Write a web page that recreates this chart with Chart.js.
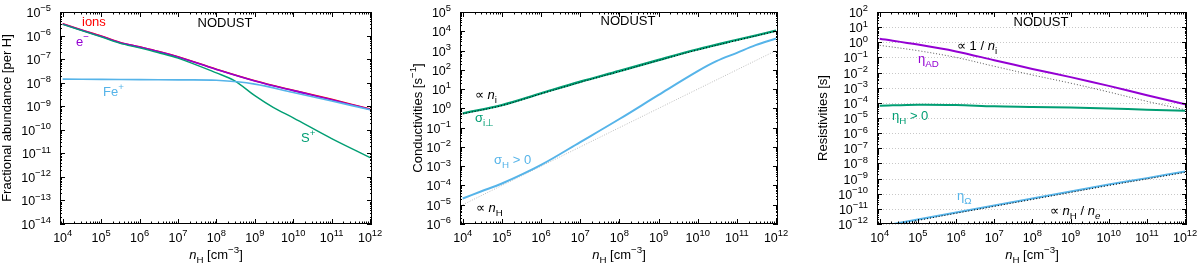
<!DOCTYPE html>
<html lang="en">
<head>
<meta charset="UTF-8">
<title>NODUST: abundances, conductivities, resistivities</title>
<script src="https://cdn.jsdelivr.net/npm/chart.js@4.4.0/dist/chart.umd.min.js"></script>
<style>
    body { margin: 0; background: #fff; }
    .row { display: flex; width: 1200px; height: 268px; }
    .panel { position: relative; width: 400px; height: 268px; }
</style>
</head>
<body>
<div class="row">
    <div class="panel"><canvas id="abund"></canvas></div>
    <div class="panel"><canvas id="cond"></canvas></div>
    <div class="panel"><canvas id="resist"></canvas></div>
</div>
<script>
// density grid [cm^-3]
const nH = [1e4, 1e5, 1e6, 1e7, 1e8, 1e9, 1e10, 1e11, 1e12];

// left panel: fractional abundances [per H]
const nHIons = [1e4, 3e4, 1e5, 3e5, 1e6, 3e6, 1e7, 1e8, 1e9, 1e10, 1e11, 1e12];
const ions   = [3.2e-6, 1.78e-6, 9.6e-7, 5.2e-7, 3.3e-7, 2.15e-7, 1.26e-7, 3.7e-8, 1.2e-8, 4.7e-9, 1.95e-9, 7.6e-10];
const elec   = [3.1e-6, 1.72e-6, 9.3e-7, 5.1e-7, 3.25e-7, 2.1e-7, 1.24e-7, 3.65e-8, 1.18e-8, 4.6e-9, 1.9e-9, 7.3e-10];
const nHS    = [1e4, 3e4, 1e5, 3e5, 1e6, 3e6, 1e7, 1e8, 3e8, 1e9, 3e9, 1e10, 1e11, 1e12];
const sPlus  = [3.0e-6, 1.65e-6, 8.8e-7, 4.8e-7, 3.0e-7, 1.9e-7, 1.1e-7, 2.6e-8, 1.2e-8, 2.8e-9, 8.9e-10, 3.2e-10, 4.2e-11, 6.6e-12];
const fePlus = [1.41e-8, 1.38e-8, 1.35e-8, 1.32e-8, 1.26e-8, 8.7e-9, 3.8e-9, 1.66e-9, 7.1e-10];

// middle panel: conductivities [s^-1]
const sigmaPerp = [0.55, 1.48, 6.0, 24, 87, 324, 1150, 3550, 10700];
const propNi    = [0.52, 1.40, 5.7, 22.5, 82, 305, 1080, 3350, 10100];
const nHHall    = [1e4, 3e4, 1e5, 1e6, 1e7, 1e8, 1e9, 1e10, 3e10, 1e11, 3e11, 1e12];
const sigmaHall = [2.1e-5, 5.0e-5, 1.26e-4, 1.17e-3, 1.78e-2, 0.28, 5.0, 85, 280, 760, 1900, 4200];
const propNH    = [1e-5, 1e-4, 1e-3, 1e-2, 0.1, 1, 10, 100, 1000];

// right panel: resistivities [s]
const etaAD     = [1.7, 0.71, 0.25, 0.066, 0.0174, 5.0e-3, 1.32e-3, 3.2e-4, 8.1e-5];
const propInvNi = [0.63, 0.28, 0.10, 0.026, 6.9e-3, 2.0e-3, 5.2e-4, 1.26e-4, 3.5e-5];
const etaHall   = [6.5e-5, 7.6e-5, 7.2e-5, 5.9e-5, 5.4e-5, 4.9e-5, 4.3e-5, 3.5e-5, 3.0e-5];
const etaOhm    = [6.8e-13, 1.95e-12, 5.8e-12, 1.66e-11, 4.8e-11, 1.38e-10, 4.0e-10, 1.07e-9, 2.9e-9];
const propNHNe  = [6.0e-13, 1.72e-12, 5.1e-12, 1.46e-11, 4.2e-11, 1.21e-10, 3.5e-10, 9.4e-10, 2.55e-9];

const RED = '#ff0000', PURPLE = '#9400d3', GREEN = '#009e73', BLUE = '#56b4e9';
const FONT = '"Liberation Sans", Arial, Helvetica, sans-serif';

// tiny markup: ^{sup} _{sub} _{*italic sub*} *italic*
function parseRich(str) {
    const out = [];
    const re = /_\{\*([^}]*)\*\}|\^\{([^}]*)\}|_\{([^}]*)\}|\*([^*]*)\*|([^^_*]+)/g;
    let m;
    while ((m = re.exec(str))) {
        if (m[1] !== undefined) out.push({ t: m[1], k: 'sub', it: true });
        else if (m[2] !== undefined) out.push({ t: m[2], k: 'sup' });
        else if (m[3] !== undefined) out.push({ t: m[3], k: 'sub' });
        else if (m[4] !== undefined) out.push({ t: m[4], k: '', it: true });
        else out.push({ t: m[5], k: '' });
    }
    return out;
}

function drawRich(ctx, str, x, y, size, color, align) {
    const parts = parseRich(str);
    const fontFor = p => (p.it ? 'italic ' : '') + (p.k ? size * 0.75 : size) + 'px ' + FONT;
    let w = 0;
    parts.forEach(p => { ctx.font = fontFor(p); p.w = ctx.measureText(p.t).width; w += p.w; });
    let cx = align === 'right' ? x - w : align === 'center' ? x - w / 2 : x;
    ctx.fillStyle = color;
    ctx.textAlign = 'left';
    ctx.textBaseline = 'alphabetic';
    parts.forEach(p => {
        ctx.font = fontFor(p);
        const dy = p.k === 'sup' ? -size * 0.45 : p.k === 'sub' ? size * 0.3 : 0;
        ctx.fillText(p.t, cx, y + dy);
        cx += p.w;
    });
}

function expLabel(e) {
    return '10^{' + (e < 0 ? '\u2212' + (-e) : e) + '}';
}

function framePlugin(cfg) {
    return {
        id: 'frame',
        beforeDatasetsDraw(chart) {
            if (!cfg.grid) return;
            const { ctx, chartArea: a, scales: { y } } = chart;
            ctx.save();
            ctx.strokeStyle = '#c8c8c8';
            ctx.lineWidth = 1;
            ctx.setLineDash([1, 2]);
            for (let e = cfg.yExp[0]; e <= cfg.yExp[1]; e++) {
                const py = Math.round(y.getPixelForValue(Math.pow(10, e))) + 0.5;
                ctx.beginPath();
                ctx.moveTo(a.left, py);
                ctx.lineTo(a.right, py);
                ctx.stroke();
            }
            ctx.restore();
        },
        afterDatasetsDraw(chart) {
            const { ctx, chartArea: a, scales: { x, y } } = chart;
            ctx.save();
            ctx.strokeStyle = '#000';
            ctx.lineWidth = 1;
            ctx.beginPath();
            // x ticks, bottom and top, pointing inward
            for (let e = 3; e <= 12; e++) {
                for (let m = 1; m <= 9; m++) {
                    const v = m * Math.pow(10, e);
                    if (v < x.min || v > x.max) continue;
                    const px = Math.round(x.getPixelForValue(v)) + 0.5;
                    const len = m === 1 ? 5 : 2.5;
                    ctx.moveTo(px, a.bottom); ctx.lineTo(px, a.bottom - len);
                    ctx.moveTo(px, a.top); ctx.lineTo(px, a.top + len);
                }
            }
            // y ticks, left and right
            for (let e = cfg.yExp[0]; e <= cfg.yExp[1]; e++) {
                for (let m = 1; m <= 9; m++) {
                    const v = m * Math.pow(10, e);
                    if (v < y.min * 0.999 || v > y.max * 1.001) continue;
                    const py = Math.round(y.getPixelForValue(v)) + 0.5;
                    const len = m === 1 ? 5 : 2;
                    ctx.moveTo(a.left, py); ctx.lineTo(a.left + len, py);
                    ctx.moveTo(a.right, py); ctx.lineTo(a.right - len, py);
                }
            }
            ctx.stroke();
            ctx.strokeRect(Math.round(a.left) + 0.5, Math.round(a.top) + 0.5,
                Math.round(a.width) - 1, Math.round(a.height) - 1);

            // tick labels
            for (let e = 4; e <= 12; e++) {
                drawRich(ctx, expLabel(e), x.getPixelForValue(Math.pow(10, e)), a.bottom + 18, 12.5, '#000', 'center');
            }
            for (let e = cfg.yExp[0]; e <= cfg.yExp[1]; e++) {
                drawRich(ctx, expLabel(e), a.left - 9, y.getPixelForValue(Math.pow(10, e)) + 5, 12.5, '#000', 'right');
            }

            // axis titles
            drawRich(ctx, '*n*_{H} [cm^{\u22123}]', (a.left + a.right) / 2, 259, 13, '#000', 'center');
            ctx.save();
            ctx.translate(cfg.yTitleX, (a.top + a.bottom) / 2);
            ctx.rotate(-Math.PI / 2);
            drawRich(ctx, cfg.yTitle, 0, 0, 13, '#000', 'center');
            ctx.restore();

            // in-plot labels
            drawRich(ctx, 'NODUST', (a.left + a.right) / 2 + 9, cfg.titleY, 13, '#000', 'center');
            cfg.notes.forEach(n => drawRich(ctx, n.s, n.x, n.y, 13, n.c, 'left'));
            ctx.restore();
        }
    };
}

function series(xs, ys, color, width, dash, order) {
    return {
        data: xs.map((v, i) => ({ x: v, y: ys[i] })),
        borderColor: color,
        borderWidth: width,
        borderDash: dash || [],
        pointRadius: 0,
        fill: false,
        tension: 0.35,
        order: order
    };
}

function makeChart(id, datasets, cfg) {
    new Chart(document.getElementById(id), {
        type: 'line',
        data: { datasets: datasets },
        options: {
            responsive: true,
            maintainAspectRatio: false,
            animation: false,
            layout: { padding: cfg.padding },
            scales: {
                x: { type: 'logarithmic', min: 8.5e3, max: 1.12e12, display: false },
                y: { type: 'logarithmic', min: Math.pow(10, cfg.yExp[0]), max: Math.pow(10, cfg.yExp[1]), display: false }
            },
            plugins: { legend: { display: false }, tooltip: { enabled: false } }
        },
        plugins: [framePlugin(cfg)]
    });
}

makeChart('abund', [
    series(nHIons, ions, RED, 1.6, null, 4),
    series(nHIons, elec, PURPLE, 1.6, null, 3),
    series(nHS, sPlus, GREEN, 1.4, null, 2),
    series(nH, fePlus, BLUE, 1.6, null, 1)
], {
    padding: { left: 60, right: 28, top: 12, bottom: 44 },
    yExp: [-14, -5],
    yTitle: 'Fractional abundance [per H]',
    yTitleX: 11,
    titleY: 27,
    notes: [
        { s: 'ions', x: 82, y: 26, c: RED },
        { s: 'e^{\u2212}', x: 76, y: 46, c: PURPLE },
        { s: 'Fe^{+}', x: 103, y: 96, c: BLUE },
        { s: 'S^{+}', x: 301, y: 142, c: GREEN }
    ]
});

makeChart('cond', [
    series(nH, propNi, '#000', 1, [1, 2], 1),
    series(nH, sigmaPerp, GREEN, 2.4, null, 2),
    series(nH, propNH, '#bdbdbd', 1, [1, 1.5], 4),
    series(nHHall, sigmaHall, BLUE, 2, null, 3)
], {
    padding: { left: 60, right: 22, top: 12, bottom: 44 },
    yExp: [-6, 5],
    yTitle: 'Conductivities [s^{\u22121}]',
    yTitleX: 22,
    titleY: 25,
    notes: [
        { s: '\u221d *n*_{i}', x: 75, y: 99, c: '#000' },
        { s: '\u03c3_{i\u22a5}', x: 75, y: 122, c: GREEN },
        { s: '\u03c3_{H} > 0', x: 94, y: 164, c: BLUE },
        { s: '\u221d *n*_{H}', x: 76, y: 212, c: '#000' }
    ]
});

makeChart('resist', [
    series(nH, etaAD, PURPLE, 2, null, 3),
    series(nH, propInvNi, '#555', 1, [1, 2], 4),
    series(nH, etaHall, GREEN, 2, null, 2),
    series(nH, propNHNe, '#000', 1, [1, 2], 1),
    series(nH, etaOhm, BLUE, 2, null, 5)
], {
    padding: { left: 77, right: 13, top: 12, bottom: 44 },
    yExp: [-12, 2],
    grid: true,
    yTitle: 'Resistivities [s]',
    yTitleX: 27,
    titleY: 26,
    notes: [
        { s: '\u221d 1 / *n*_{i}', x: 157, y: 50, c: '#000' },
        { s: '\u03b7_{AD}', x: 118, y: 63, c: PURPLE },
        { s: '\u03b7_{H} > 0', x: 92, y: 120, c: GREEN },
        { s: '\u03b7_{\u03a9}', x: 157, y: 200, c: BLUE },
        { s: '\u221d *n*_{H} / *n*_{*e*}', x: 250, y: 215, c: '#000' }
    ]
});
</script>
</body>
</html>
